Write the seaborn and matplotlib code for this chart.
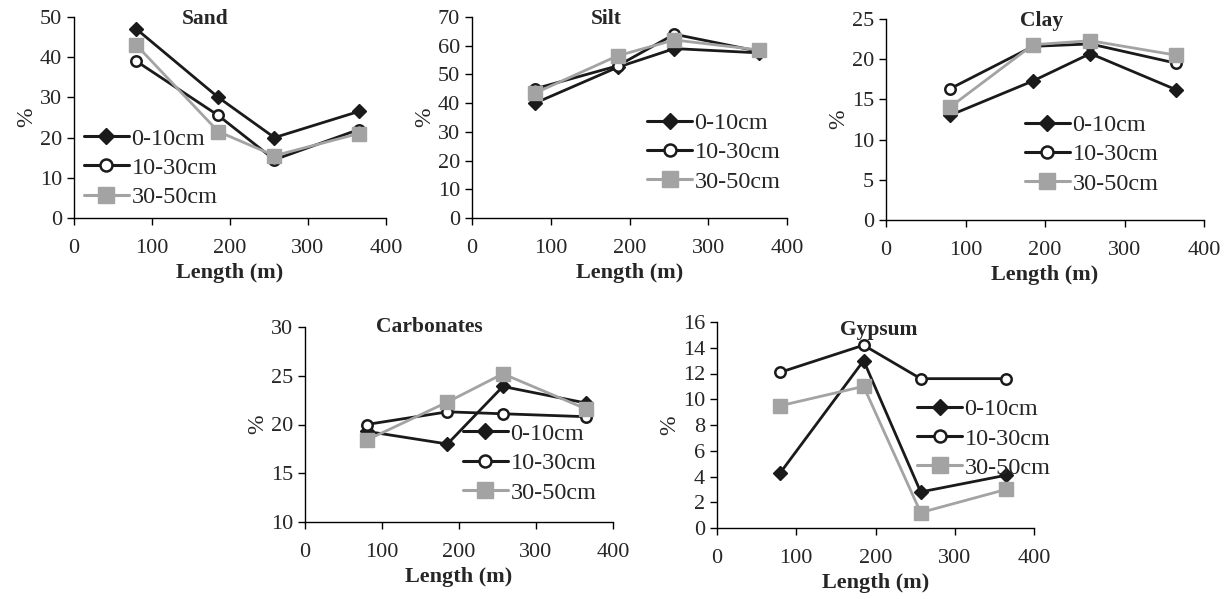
import seaborn as sns
import pandas as pd
import matplotlib.pyplot as plt
from matplotlib.lines import Line2D

length = [80, 185, 257, 365]
depths = ['0-10cm', '10-30cm', '30-50cm']

sand_0_10 = [47, 30, 20, 26.5]
sand_10_30 = [39, 25.5, 14.5, 22]
sand_30_50 = [43, 21.5, 15.5, 21]

silt_0_10 = [40, 52.5, 59, 57.5]
silt_10_30 = [45, 53, 64, 58]
silt_30_50 = [43.5, 56.5, 62, 58.5]

clay_0_10 = [13, 17.3, 20.7, 16.2]
clay_10_30 = [16.3, 21.6, 21.9, 19.5]
clay_30_50 = [14, 21.8, 22.3, 20.5]

carb_0_10 = [19.3, 18, 23.9, 22.2]
carb_10_30 = [20, 21.3, 21.1, 20.8]
carb_30_50 = [18.4, 22.3, 25.2, 21.6]

gyps_0_10 = [4.3, 13, 2.8, 4.1]
gyps_10_30 = [12.1, 14.2, 11.6, 11.6]
gyps_30_50 = [9.5, 11, 1.2, 3]

sns.set_style('ticks')
plt.rcParams['font.family'] = ['Liberation Serif', 'DejaVu Serif']
plt.rcParams['font.size'] = 15

W, H = 1228, 599
fig = plt.figure(figsize=(W / 100, H / 100), dpi=100)

dark = '#1a1a1a'
grey = '#a3a3a3'
markers = {'0-10cm': 'D', '10-30cm': 'o', '30-50cm': 's'}
palette = {'0-10cm': dark, '10-30cm': dark, '30-50cm': grey}
# marker styling per depth: size, face colour
msize = {'D': 7.5, 'o': 7.5, 's': 10}
mface = {'D': dark, 'o': 'white', 's': grey}


def style_line(line, scale=1.0):
    m = line.get_marker()
    if m in msize:
        line.set_markersize(msize[m] * scale)
        line.set_markerfacecolor(mface[m])
        line.set_markeredgecolor(dark if m != 's' else grey)
        line.set_markeredgewidth(1.8 if m == 'o' else 1)


def panel(box, title, series, ylim, yticks, leg_anchor, title_pos):
    left, right, top, bottom = box
    ax = fig.add_axes([left / W, 1 - bottom / H, (right - left) / W, (bottom - top) / H])
    df = pd.DataFrame(columns=['Length', 'Value', 'Depth'])
    for d, vals in zip(depths, series):
        for x, v in zip(length, vals):
            df.loc[len(df)] = [x, v, d]
    df['Length'] = df['Length'].astype(float)
    df['Value'] = df['Value'].astype(float)
    sns.lineplot(data=df, x='Length', y='Value', hue='Depth', style='Depth',
                 markers=markers, dashes=False, palette=palette, linewidth=2,
                 legend=False, ax=ax)
    for line in ax.lines:
        style_line(line)

    handles = []
    for d in depths:
        h = Line2D([], [], color=palette[d], linewidth=2.2, marker=markers[d])
        style_line(h, 1.15)
        handles.append(h)
    ax.legend(handles, depths, loc='upper left', bbox_to_anchor=leg_anchor,
              frameon=False, handlelength=1.85, handletextpad=0.1,
              labelspacing=0.3, borderaxespad=0, borderpad=0, fontsize=17.5)

    ax.set_xlim(0, 400)
    ax.set_xticks([0, 100, 200, 300, 400])
    ax.set_ylim(ylim)
    ax.set_yticks(yticks)
    ax.set_xlabel('Length (m)', fontweight='bold', fontsize=16, labelpad=4)
    ax.set_ylabel('%', fontsize=17, labelpad=2)
    ax.text(title_pos[0], title_pos[1], title, transform=ax.transAxes,
            ha='center', va='center', fontweight='bold', fontsize=15.5)
    ax.tick_params(axis='both', labelsize=16, length=5, width=1, color='black')
    ax.tick_params(axis='x', pad=10)
    sns.despine(ax=ax)
    for s in ['left', 'bottom']:
        ax.spines[s].set_color('black')
        ax.spines[s].set_linewidth(1)
    return ax


panel((74, 386, 17, 218), 'Sand', [sand_0_10, sand_10_30, sand_30_50],
      (0, 50), range(0, 51, 10), (0.032, 0.45), (0.42, 0.99))
panel((472, 787, 17, 218), 'Silt', [silt_0_10, silt_10_30, silt_30_50],
      (0, 70), range(0, 71, 10), (0.556, 0.527), (0.425, 0.99))
panel((886, 1204, 19, 220), 'Clay', [clay_0_10, clay_10_30, clay_30_50],
      (0, 25), range(0, 26, 5), (0.437, 0.527), (0.49, 0.99))
panel((305, 613, 327, 522), 'Carbonates', [carb_0_10, carb_10_30, carb_30_50],
      (10, 30), range(10, 31, 5), (0.513, 0.508), (0.405, 1.0))
panel((717, 1034, 322, 528), 'Gypsum', [gyps_0_10, gyps_10_30, gyps_30_50],
      (0, 16), range(0, 17, 2), (0.631, 0.63), (0.51, 0.96))

fig.savefig('out.png', dpi=100)
